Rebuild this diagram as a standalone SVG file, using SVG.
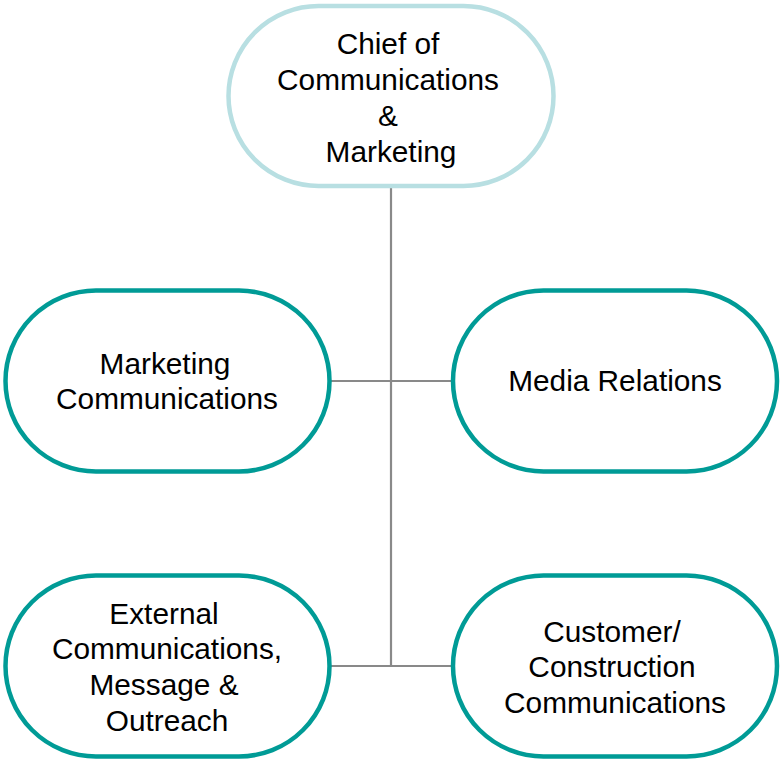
<svg xmlns="http://www.w3.org/2000/svg" width="780" height="759" viewBox="0 0 780 759">
<style>
.n{fill:#fff;stroke:#009B96;stroke-width:4.5}
.top{fill:#fff;stroke:#B8DFE2;stroke-width:4.5}
.c{stroke:#898989;stroke-width:2.2;fill:none}
text{font-family:"Liberation Sans",Arial,sans-serif;font-size:29.8px;fill:#000;text-anchor:middle}
</style>
<rect width="780" height="759" fill="#fff"/>
<g id="connectors">
<line class="c" x1="391" y1="188" x2="391" y2="666"/>
<line class="c" x1="330" y1="381" x2="453" y2="381"/>
<line class="c" x1="330" y1="666" x2="453" y2="666"/>
</g>
<g id="chief">
<rect class="top" x="228.5" y="6" width="325" height="180" rx="90"/>
<text x="388" y="54">Chief of</text>
<text x="388" y="90">Communications</text>
<text x="388" y="126">&amp;</text>
<text x="391" y="162">Marketing</text>
</g>
<g id="marketing">
<rect class="n" x="5.5" y="290.5" width="324" height="181" rx="90.5"/>
<text x="165" y="374">Marketing</text>
<text x="167" y="409">Communications</text>
</g>
<g id="media">
<rect class="n" x="453" y="290.5" width="324" height="181" rx="90.5"/>
<text x="615" y="391">Media Relations</text>
</g>
<g id="external">
<rect class="n" x="5.5" y="575.5" width="324" height="181" rx="90.5"/>
<text x="164" y="624">External</text>
<text x="167" y="659">Communications,</text>
<text x="164" y="695">Message &amp;</text>
<text x="167" y="731">Outreach</text>
</g>
<g id="customer">
<rect class="n" x="453" y="575.5" width="324" height="181" rx="90.5"/>
<text x="612" y="642">Customer/</text>
<text x="612" y="677">Construction</text>
<text x="615" y="713">Communications</text>
</g>
</svg>
